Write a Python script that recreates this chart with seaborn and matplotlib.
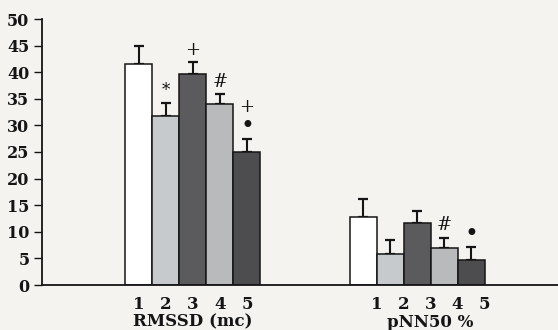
import numpy as np
import pandas as pd
import matplotlib
matplotlib.use("Agg")
import matplotlib.pyplot as plt
import seaborn as sns

# ---- data ----
groups = ["RMSSD (mc)", "pNN50 %"]
bar_labels = ["1", "2", "3", "4", "5"]
rmssd_values = [41.6, 31.8, 39.6, 34.0, 25.0]
rmssd_errors = [3.4, 2.5, 2.3, 1.9, 2.5]
pnn50_values = [12.7, 5.9, 11.7, 6.9, 4.7]
pnn50_errors = [3.4, 2.6, 2.3, 2.0, 2.5]
# significance marks: (group index, bar index, stack level, symbol)
mark_group = [0, 0, 0, 0, 0, 1, 1]
mark_bar = [1, 2, 3, 4, 4, 3, 4]
mark_level = [0, 0, 0, 1, 0, 0, 0]
mark_symbol = ["*", "+", "#", "+", "\u2022", "#", "\u2022"]
y_ticks = [0, 5, 10, 15, 20, 25, 30, 35, 40, 45, 50]

# ---- styling ----
bar_colors = ["#ffffff", "#c6cacd", "#5a5b5f", "#b7babd", "#4c4d51"]
bg = "#f4f3ef"
ink = "#151515"
group_offset = [0.0, 8.3]
label_shift = [0.0, 0.5]

sns.set_theme(style="white")
plt.rcParams["font.family"] = ["DejaVu Serif"]

values = [rmssd_values, pnn50_values]
errors = [rmssd_errors, pnn50_errors]
rows = []
for g in range(len(groups)):
    for i, lab in enumerate(bar_labels):
        rows.append({"group": groups[g], "bar": lab, "pos": group_offset[g] + i,
                     "value": values[g][i], "err": errors[g][i]})
df = pd.DataFrame(rows)

fig = plt.figure(figsize=(5.58, 3.30), dpi=100, facecolor=bg)
ax = fig.add_axes([42 / 558, 45 / 330, 1 - 42 / 558, 266 / 330])
ax.set_facecolor(bg)

sns.barplot(data=df, x="pos", y="value", hue="bar", palette=bar_colors,
            native_scale=True, width=1.0, dodge=False, edgecolor=ink,
            linewidth=1.1, legend=False, ax=ax, zorder=2)

ax.errorbar(df["pos"], df["value"], yerr=[np.zeros(len(df)), df["err"]],
            fmt="none", ecolor=ink, elinewidth=1.5, capsize=3.6,
            capthick=1.6, zorder=1)

for g, b, lvl, sym in zip(mark_group, mark_bar, mark_level, mark_symbol):
    x = group_offset[g] + b
    top = values[g][b] + errors[g][b]
    off = 9 + 14 * lvl
    if sym == "\u2022":
        fs = 17
    elif sym == "*":
        fs = 12
    else:
        fs = 13
    ax.annotate(sym, (x, top), xytext=(0, off), textcoords="offset points",
                ha="center", va="center", fontsize=fs, color=ink)

ax.set_xlim(-3.59, 15.52)
ax.set_ylim(0, 50)
ax.set_yticks(y_ticks)
ax.set_yticklabels([str(t) for t in y_ticks], fontsize=11.5, color=ink,
                   fontweight="bold")

xt = []
xl = []
for g in range(len(groups)):
    for i, lab in enumerate(bar_labels):
        xt.append(group_offset[g] + i + label_shift[g])
        xl.append(lab)
ax.set_xticks(xt)
ax.set_xticklabels(xl, fontsize=12, color=ink, fontweight="bold")
ax.tick_params(axis="x", length=0, pad=8)
ax.tick_params(axis="y", length=6, width=1.0, direction="out", color=ink, pad=3,
               left=True)
ax.set_xlabel("")
ax.set_ylabel("")

for g in range(len(groups)):
    cx = group_offset[g] + 2 + label_shift[g]
    ax.text(cx, -0.14, groups[g], transform=ax.get_xaxis_transform(),
            ha="center", va="center", fontsize=12, color=ink, fontweight="bold")

for s in ["top", "right"]:
    ax.spines[s].set_visible(False)
for s in ["left", "bottom"]:
    ax.spines[s].set_color(ink)
    ax.spines[s].set_linewidth(1.3)

fig.savefig("out.png", dpi=100, facecolor=bg)
